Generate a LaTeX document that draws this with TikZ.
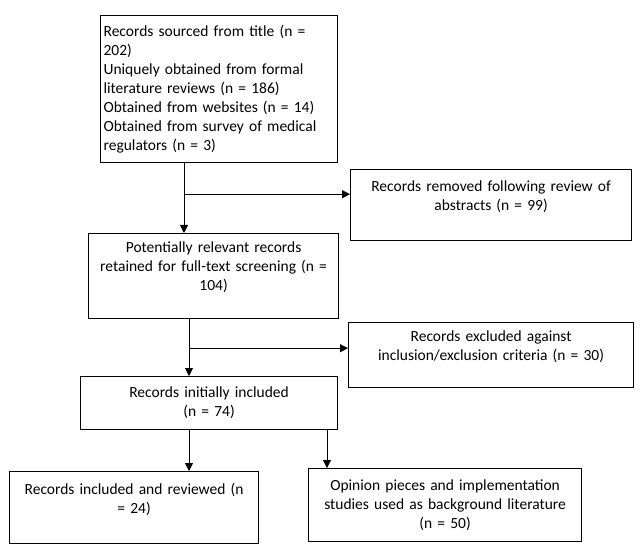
\documentclass[tikz,border=0pt]{standalone}
\usepackage{fontspec}
\setmainfont{Carlito}
\usetikzlibrary{arrows.meta}
\tikzset{
  box/.style={draw, line width=1.2pt, anchor=north west, inner xsep=3pt, inner ysep=0pt,
    align=center, font=\fontsize{15.5}{19}\selectfont},
  arr/.style={line width=0.8pt, -{Triangle[length=8pt,width=8pt]}}
}
\begin{document}
\begin{tikzpicture}[x=1pt,y=-1pt]
  \useasboundingbox (0,0) rectangle (642,553);
  %% Boxes
  \node[box, align=left, text width=231pt, minimum height=147pt] (src) at (100,15)
    {Records sourced from title (n =\\ 202)\\ Uniquely obtained from formal\\ literature reviews (n = 186)\\
     Obtained from websites (n = 14)\\ Obtained from survey of medical\\ regulators (n = 3)};
  \node[box, text width=275pt, minimum height=71pt] (rem) at (350,169)
    {Records removed following review of\\ abstracts (n = 99)\\ \mbox{}};
  \node[box, text width=244pt, minimum height=85pt] (pot) at (88,233)
    {Potentially relevant records\\ retained for full-text screening (n =\\ 104)\\ \mbox{}};
  \node[box, text width=279pt, minimum height=65pt] (exc) at (348,322)
    {Records excluded against\\ inclusion/exclusion criteria (n = 30)\\ \mbox{}};
  \node[box, text width=251pt, minimum height=53pt] (inc) at (80,376)
    {Records initially included\\ (n = 74)};
  \node[box, text width=243pt, minimum height=72pt] (rev) at (9,471)
    {Records included and reviewed (n\\ = 24)\\ \mbox{}};
  \node[box, text width=267pt, minimum height=73pt] (opi) at (308,468)
    {Opinion pieces and implementation\\ studies used as background literature\\ (n = 50)};
  %% Arrows
  \coordinate (t1) at ([xshift=84pt]src.south west);
  \coordinate (j1) at ([yshift=-31pt]t1);
  \draw[arr] (t1) -- (t1 |- pot.north);
  \draw[arr] (j1) -- (j1 -| rem.west);
  \coordinate (t2) at ([xshift=101pt]pot.south west);
  \coordinate (j2) at ([yshift=-29pt]t2);
  \draw[arr] (t2) -- (t2 |- inc.north);
  \draw[arr] (j2) -- (j2 -| exc.west);
  \coordinate (t3) at ([xshift=109pt]inc.south west);
  \coordinate (t4) at ([xshift=247pt]inc.south west);
  \draw[arr] (t3) -- (t3 |- rev.north);
  \draw[arr] (t4) -- (t4 |- opi.north);
\end{tikzpicture}
\end{document}
